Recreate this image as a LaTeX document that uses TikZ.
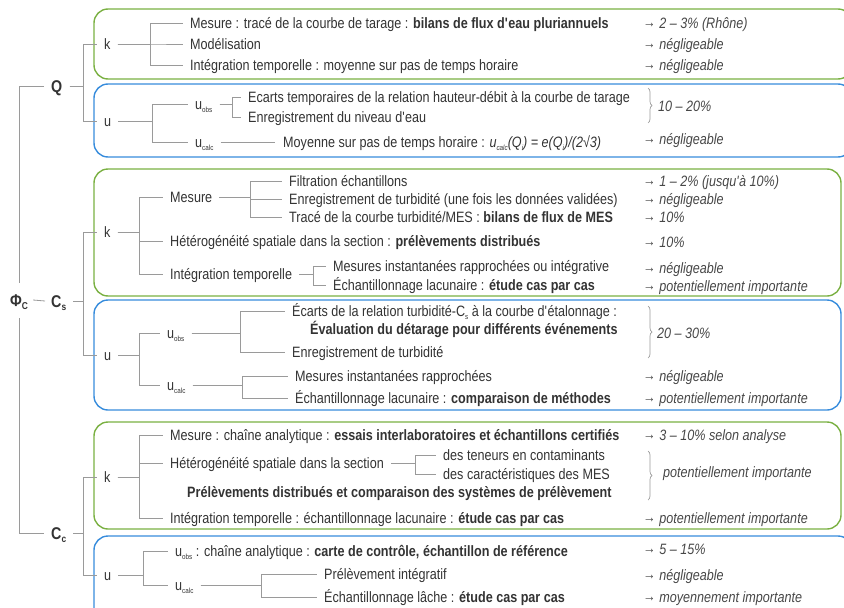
\documentclass[tikz,border=0pt]{standalone}
\usepackage{fontspec}
\setmainfont[FakeStretch=0.84]{Liberation Sans}
\usetikzlibrary{decorations.pathreplacing}
\definecolor{txt}{HTML}{333333}
\definecolor{treeg}{HTML}{9A9A9A}
\definecolor{boxg}{RGB}{122,176,66}
\definecolor{boxb}{RGB}{55,140,220}
\newcommand\sub[1]{\raisebox{-2.5pt}{\fontsize{7.5}{7.5}\selectfont #1}}
\newcommand\bsub[1]{\raisebox{-3pt}{\fontsize{10}{10}\selectfont #1}}
\newcommand\rr[1]{\raisebox{1.5pt}{→} \textit{#1}}
\newcommand\q{\textquotesingle}
\newcommand\fork[3]{%
  \path ([xshift=7pt]#1.east) coordinate (fa) (#2,0) coordinate (fv);
  \foreach \c in {#3}{\draw[tree] (fa) -- (fa-|fv) |- ([xshift=-7pt]\c.west);}}
\begin{document}
\begin{tikzpicture}[x=1pt,y=-1pt,
  font=\fontsize{15}{17}\selectfont,
  lab/.style={anchor=west,inner sep=0pt,text height=11pt,text depth=0pt,text=txt},
  big/.style={lab,font=\fontsize{17}{17}\selectfont\bfseries,text height=12pt},
  res/.style={lab,text=txt!90},
  tree/.style={draw=treeg,line width=0.8pt},
  gbox/.style={draw=boxg,line width=1.4pt,rounded corners=14pt},
  bbox/.style={draw=boxb,line width=1.4pt,rounded corners=14pt},
  brc/.style={draw=treeg,line width=0.7pt,decorate,decoration={brace,amplitude=4pt}}]
\useasboundingbox (0,0) rectangle (844,608);
\begin{scope}
\clip (0,0) rectangle (844,608);
% boxes
\draw[gbox] (94,9) rectangle (852,79);
\draw[bbox] (94,84) rectangle (852,157);
\draw[gbox] (94,169) rectangle (841,296);
\draw[bbox] (94,300) rectangle (841,410);
\draw[gbox] (94,422) rectangle (841,529);
\draw[bbox] (94,536) rectangle (852,625);
\end{scope}

% ---------- root
\node[big,anchor=center] (phi) at (19,300) {Φ\bsub{C}};
\node[big] (Q) at (51,86) {Q};
\node[big] (Cs) at (51,301) {C\bsub{s}};
\node[big] (Cc) at (51,533) {C\bsub{c}};
\draw[tree] ([xshift=-7pt]Q.west) -| ([yshift=11pt]phi.north);
\draw[tree] ([yshift=-12pt]phi.south) |- ([xshift=-7pt]Cc.west);
\draw[tree] ([xshift=5pt]phi.east) -- ([xshift=-6pt]Cs.west);

% ---------- Q
\node[lab] (k1) at (104,44) {k};
\node[lab] (u1) at (104,121) {u};
\fork{Q}{83}{k1,u1}
\node[lab] (m1) at (190,23) {Mesure : tracé de la courbe de tarage : \textbf{bilans de flux d\q eau pluriannuels}};
\node[lab] (m2) at (190,44) {Modélisation};
\node[lab] (m3) at (190,65) {Intégration temporelle : moyenne sur pas de temps horaire};
\fork{k1}{150}{m1,m2,m3}
\node[res] (rm1) at (643,23) {\rr{2 – 3\% (Rhône)}};
\node[res] (rm2) at (643,44) {\rr{négligeable}};
\node[res] (rm3) at (643,65) {\rr{négligeable}};

\node[lab] (uo1) at (195,104) {u\sub{obs}};
\node[lab] (uc1) at (195,142) {u\sub{calc}};
\fork{u1}{152}{uo1,uc1}
\node[lab] (e1) at (248,97) {Ecarts temporaires de la relation hauteur-débit à la courbe de tarage};
\node[lab] (e2) at (248,117) {Enregistrement du niveau d\q eau};
\fork{uo1}{232}{e1,e2}
\draw[brc] (648,88) -- (648,123);
\node[res] (re1) at (658,106) {\textit{10 – 20\%}};
\node[lab] (mc) at (283,142) {Moyenne sur pas de temps horaire : {\itshape u\sub{calc}(Q\sub{i}) = e(Q\sub{i})/(2√3)}};
\draw[tree] ([xshift=7pt]uc1.east) -- ([xshift=-8pt]mc.west);
\node[res] (rmc) at (643,139) {\rr{négligeable}};

% ---------- Cs
\node[lab] (k2) at (104,232) {k};
\node[lab] (u2) at (104,355) {u};
\fork{Cs}{83}{k2,u2}
\node[lab] (mes) at (170,197) {Mesure};
\node[lab] (het) at (170,241) {Hétérogénéité spatiale dans la section : \textbf{prélèvements distribués}};
\node[lab] (itg) at (170,274) {Intégration temporelle};
\fork{k2}{139}{mes,het,itg}
\node[lab] (f1) at (289,181) {Filtration échantillons};
\node[lab] (f2) at (289,199) {Enregistrement de turbidité (une fois les données validées)};
\node[lab] (f3) at (289,217) {Tracé de la courbe turbidité/MES : \textbf{bilans de flux de MES}};
\fork{mes}{250}{f1,f2,f3}
\node[lab] (i1) at (333,266) {Mesures instantanées rapprochées ou intégrative};
\node[lab] (i2) at (333,285) {Échantillonnage lacunaire : \textbf{étude cas par cas}};
\fork{itg}{313}{i1,i2}
\node[res] (rf1) at (643,181) {\rr{1 – 2\% (jusqu\q à 10\%)}};
\node[res] (rf2) at (643,199) {\rr{négligeable}};
\node[res] (rf3) at (643,217) {\rr{10\%}};
\node[res] (rhet) at (643,242) {\rr{10\%}};
\node[res] (ri1) at (643,268) {\rr{négligeable}};
\node[res] (ri2) at (643,286) {\rr{potentiellement importante}};

\node[lab] (uo2) at (167,333) {u\sub{obs}};
\node[lab] (uc2) at (167,385) {u\sub{calc}};
\fork{u2}{139}{uo2,uc2}
\node[lab] (c1) at (292,311) {Écarts de la relation turbidité-C\sub{s} à la courbe d\q étalonnage :};
\node[lab] (c1b) at (310,329) {\textbf{Évaluation du détarage pour différents événements}};
\node[lab] (c2) at (292,352) {Enregistrement de turbidité};
\fork{uo2}{240}{c1,c2}
\draw[brc] (648,306) -- (648,358);
\node[res] (rc) at (657,333) {\textit{20 – 30\%}};
\node[lab] (d1) at (295,376) {Mesures instantanées rapprochées};
\node[lab] (d2) at (295,398) {Échantillonnage lacunaire : \textbf{comparaison de méthodes}};
\fork{uc2}{242}{d1,d2}
\node[res] (rd1) at (643,376) {\rr{négligeable}};
\node[res] (rd2) at (643,398) {\rr{potentiellement importante}};

% ---------- Cc
\node[lab] (k3) at (104,477) {k};
\node[lab] (u3) at (104,575) {u};
\fork{Cc}{83}{k3,u3}
\node[lab] (a1) at (170,435) {Mesure : chaîne analytique : \textbf{essais interlaboratoires et échantillons certifiés}};
\node[lab] (a2) at (170,463) {Hétérogénéité spatiale dans la section};
\node[lab] (a3) at (170,518) {Intégration temporelle : échantillonnage lacunaire : \textbf{étude cas par cas}};
\fork{k3}{139}{a1,a2,a3}
\node[lab] (a2b) at (187,492) {\textbf{Prélèvements distribués et comparaison des systèmes de prélèvement}};
\node[lab] (b1) at (443,455) {des teneurs en contaminants};
\node[lab] (b2) at (443,474) {des caractéristiques des MES};
\fork{a2}{415}{b1,b2}
\draw[brc] (648,451) -- (648,500);
\node[res] (rb) at (663,472) {\textit{potentiellement importante}};
\node[res] (ra1) at (643,435) {\rr{3 – 10\% selon analyse}};
\node[res] (ra3) at (643,518) {\rr{potentiellement importante}};

\node[lab] (uo3) at (175,551) {u\sub{obs} : chaîne analytique : \textbf{carte de contrôle, échantillon de référence}};
\node[lab] (uc3) at (175,585) {u\sub{calc}};
\fork{u3}{143}{uo3,uc3}
\node[lab] (g1) at (324,574) {Prélèvement intégratif};
\node[lab] (g2) at (324,597) {Échantillonnage lâche : \textbf{étude cas par cas}};
\fork{uc3}{261}{g1,g2}
\node[res] (rg0) at (643,549) {\rr{5 – 15\%}};
\node[res] (rg1) at (643,575) {\rr{négligeable}};
\node[res] (rg2) at (643,597) {\rr{moyennement importante}};
\end{tikzpicture}
\end{document}
